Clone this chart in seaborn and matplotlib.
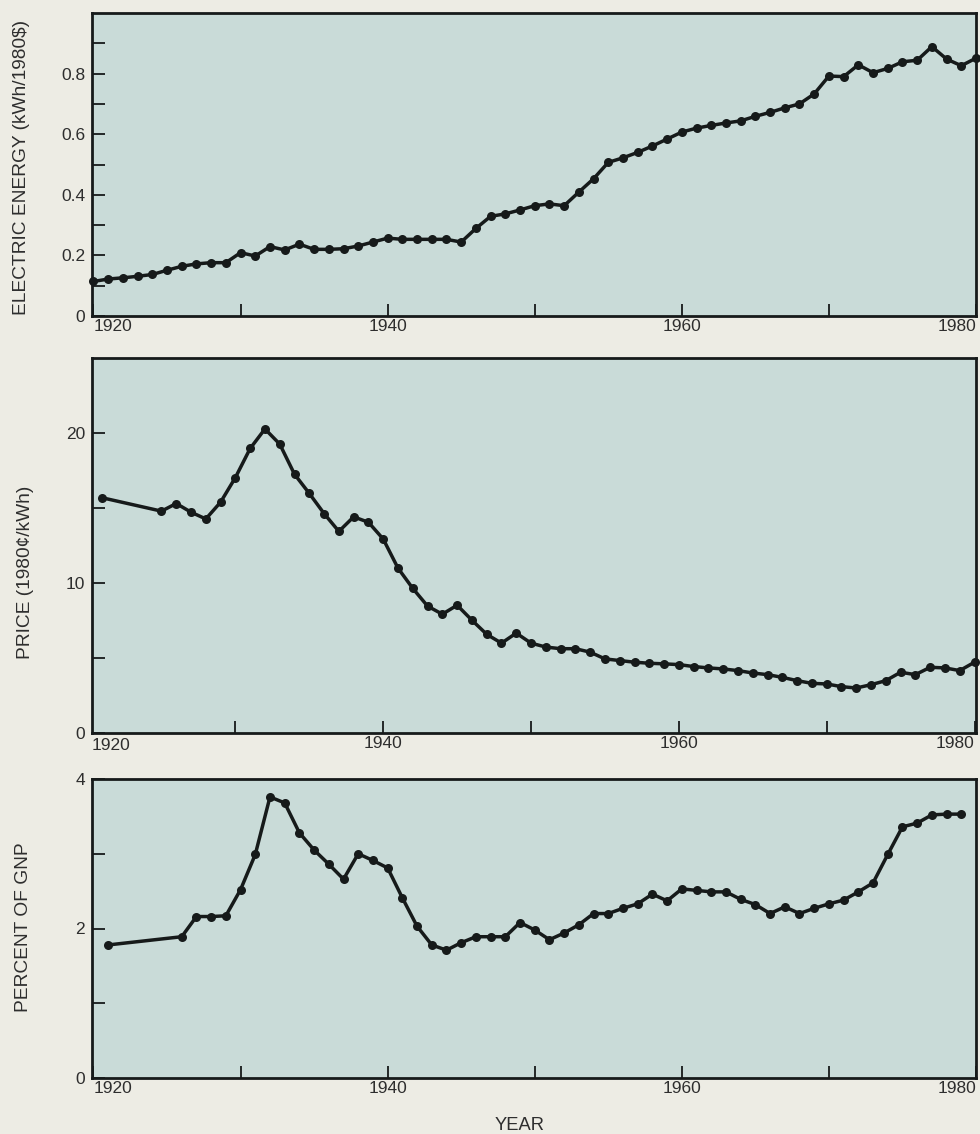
import matplotlib
matplotlib.use("Agg")
import matplotlib.pyplot as plt
import seaborn as sns

# annual values
energy_years = list(range(1920, 1981))
energy_kwh = [
    0.114, 0.122, 0.126, 0.131, 0.137, 0.151, 0.164, 0.172, 0.176, 0.176,
    0.209, 0.198, 0.229, 0.218, 0.237, 0.220, 0.220, 0.222, 0.231, 0.244,
    0.257, 0.253, 0.253, 0.253, 0.253, 0.244, 0.289, 0.329, 0.337, 0.350,
    0.364, 0.370, 0.364, 0.409, 0.453, 0.507, 0.522, 0.540, 0.561, 0.584,
    0.607, 0.620, 0.629, 0.637, 0.644, 0.659, 0.672, 0.687, 0.700, 0.733,
    0.792, 0.790, 0.829, 0.803, 0.817, 0.839, 0.844, 0.889, 0.848, 0.826,
    0.851,
]

price_years = [1921] + list(range(1925, 1981))
price_cents = [
    15.68,
    14.79, 15.30, 14.72, 14.27, 15.39,
    17.03, 18.97, 20.27, 19.26, 17.25, 15.97, 14.63, 13.44, 14.41, 14.05,
    12.93, 10.99, 9.64, 8.46, 7.92, 8.52, 7.52, 6.58, 5.99, 6.66,
    5.99, 5.73, 5.62, 5.62, 5.39, 4.94, 4.83, 4.72, 4.65, 4.61,
    4.56, 4.43, 4.34, 4.27, 4.16, 4.00, 3.89, 3.71, 3.49, 3.31,
    3.27, 3.09, 3.00, 3.22, 3.49, 4.05, 3.89, 4.38, 4.34, 4.16,
    4.72,
]

gnp_years = [1921] + list(range(1926, 1980))
gnp_pct = [
    1.78,
    1.89, 2.16, 2.16, 2.17,
    2.52, 2.99, 3.76, 3.68, 3.28, 3.05, 2.86, 2.66, 3.00, 2.91,
    2.81, 2.41, 2.03, 1.78, 1.71, 1.81, 1.89, 1.89, 1.89, 2.08,
    1.98, 1.85, 1.94, 2.05, 2.20, 2.20, 2.27, 2.33, 2.46, 2.37,
    2.53, 2.51, 2.49, 2.49, 2.39, 2.32, 2.20, 2.29, 2.20, 2.27,
    2.33, 2.38, 2.49, 2.61, 2.99, 3.36, 3.41, 3.52, 3.53, 3.53,
]

year_ticks = [1920, 1930, 1940, 1950, 1960, 1970, 1980]
year_labels = ["1920", "", "1940", "", "1960", "", "1980"]

energy_ticks = [0, 0.1, 0.2, 0.3, 0.4, 0.5, 0.6, 0.7, 0.8, 0.9]
energy_labels = ["0", "", "0.2", "", "0.4", "", "0.6", "", "0.8", ""]
price_ticks = [0, 5, 10, 15, 20]
price_labels = ["0", "", "10", "", "20"]
gnp_ticks = [0, 1, 2, 3, 4]
gnp_labels = ["0", "", "2", "", "4"]

PAPER = "#edece4"
PANEL = "#c9dbd8"
INK = "#161a1a"
TEXT = "#2e2e2e"

sns.set_style("ticks")
plt.rcParams["font.family"] = ["Liberation Sans", "DejaVu Sans"]

fig = plt.figure(figsize=(9.8, 11.34), dpi=100)
fig.patch.set_facecolor(PAPER)

W, H = 980.0, 1134.0
def box(left, top, right, bottom):
    return [left / W, 1 - bottom / H, (right - left) / W, (bottom - top) / H]

ax1 = fig.add_axes(box(92, 13, 976, 316))
ax2 = fig.add_axes(box(92, 358, 976, 733))
ax3 = fig.add_axes(box(92, 779, 976, 1078))


def style_panel(ax, xlim, ylim, yticks, ylabels, xticks, xlabels):
    ax.set_facecolor(PANEL)
    ax.set_xlim(*xlim)
    ax.set_ylim(*ylim)
    ax.set_xticks(xticks)
    ax.set_xticklabels(xlabels)
    ax.set_yticks(yticks)
    ax.set_yticklabels(ylabels)
    ax.set_xlabel("")
    ax.set_ylabel("")
    for s in ax.spines.values():
        s.set_visible(True)
        s.set_linewidth(2.0)
        s.set_color(INK)
    ax.tick_params(axis="x", direction="in", length=8.5, width=1.3, pad=2,
                   color=INK, labelcolor=TEXT, labelsize=12.5)
    ax.tick_params(axis="y", direction="in", length=9.5, width=1.3, pad=5,
                   color=INK, labelcolor=TEXT, labelsize=12.5)
    for t in ax.get_xticklabels():
        if t.get_text() == "1920":
            t.set_ha("left")
        elif t.get_text() == "1980":
            t.set_ha("right")


line_kw = dict(color=INK, linewidth=2.5, marker="o", markersize=6.5,
               markeredgewidth=0, clip_on=False)

sns.lineplot(x=energy_years, y=energy_kwh, ax=ax1, **line_kw)
style_panel(ax1, (1919.9, 1980.0), (0, 1.0), energy_ticks, energy_labels,
            year_ticks, year_labels)

sns.lineplot(x=price_years, y=price_cents, ax=ax2, **line_kw)
style_panel(ax2, (1920.3, 1980.1), (0, 25), price_ticks, price_labels,
            year_ticks[1:], year_labels[1:])
# the 1920 tick falls just outside this panel's range, so label it by hand
ax2.text(0, -0.012, "1920", transform=ax2.transAxes, ha="left", va="top",
         fontsize=12.5, color=TEXT)

sns.lineplot(x=gnp_years, y=gnp_pct, ax=ax3, **line_kw)
style_panel(ax3, (1919.9, 1980.0), (0, 4), gnp_ticks, gnp_labels,
            year_ticks, year_labels)

fig.text(22 / W, 1 - 167 / H, "ELECTRIC ENERGY (kWh/1980$)", rotation=90,
         ha="center", va="center", fontsize=13.8, color=TEXT)
fig.text(25 / W, 1 - 572 / H, "PRICE (1980\u00a2/kWh)", rotation=90,
         ha="center", va="center", fontsize=13.8, color=TEXT)
fig.text(23 / W, 1 - 927 / H, "PERCENT OF GNP", rotation=90,
         ha="center", va="center", fontsize=13.8, color=TEXT)
fig.text(520 / W, 1 - 1125 / H, "YEAR", ha="center", va="center",
         fontsize=13.2, color=TEXT)

fig.savefig("out.png", dpi=100, facecolor=fig.get_facecolor())
